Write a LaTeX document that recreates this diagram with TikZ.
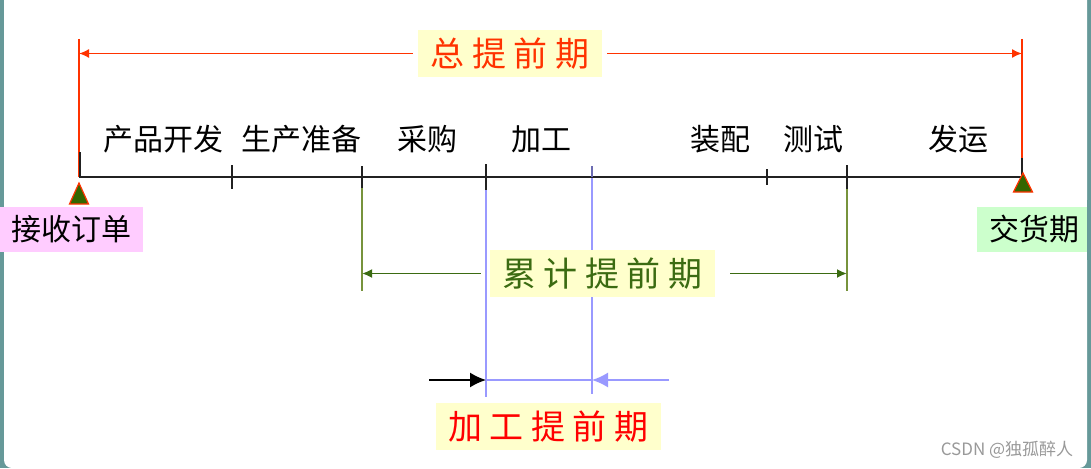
\documentclass[tikz,border=0pt]{standalone}
\usepackage{fontspec}
\usepackage{xcolor}
\usepackage{tikz}
\usetikzlibrary{arrows.meta}
\setmainfont{Noto Sans CJK SC}

\definecolor{leadred}{HTML}{FF3300}
\definecolor{cumgreen}{HTML}{3B6B12}
\definecolor{cumline}{HTML}{77933C}
\definecolor{procblue}{HTML}{9999FF}
\definecolor{noteyellow}{HTML}{FFFFCC}
\definecolor{orderpink}{HTML}{FFCCFF}
\definecolor{duegreen}{HTML}{CCFFCC}
\definecolor{frameteal}{HTML}{669999}
\definecolor{markgreen}{HTML}{336600}

\newcommand{\cjkgap}{\hspace{7.5pt}}

\tikzset{
  stage/.style={font=\fontsize{30}{30}\selectfont, inner sep=0pt},
  leadbox/.style={fill=noteyellow, font=\fontsize{34}{34}\selectfont, minimum width=225pt, minimum height=47pt, inner sep=0pt},
  datebox/.style={font=\fontsize{30}{30}\selectfont, minimum height=45pt, inner sep=0pt},
  milestone/.style={fill=markgreen, draw=leadred, line width=1.2pt},
  timeline/.style={line width=2pt, black!87},
  tick/.style={line width=1.6pt, black!87}
}

\begin{document}
\begin{tikzpicture}[x=1pt, y=-1pt]

    % frame
    \useasboundingbox (0,0) rectangle (1091,468);
    \fill[frameteal] (0,0) rectangle (1091,468);
    \fill[white, rounded corners=8pt] (4,-20) rectangle (1087,468);

    % time points
    \coordinate (order) at (79,177);
    \coordinate (purchase) at (362,177);
    \coordinate (procstart) at (486,177);
    \coordinate (procend) at (592,177);
    \coordinate (test) at (847,177);
    \coordinate (due) at (1022,177);

    % total lead time
    \draw[leadred, line width=1.6pt] (79,39) -- (order);
    \draw[leadred, line width=1.6pt] (1022,39) -- (1022,158);

    % cumulative lead time
    \draw[cumline, line width=1.8pt] (purchase) -- (362,291);
    \draw[cumline, line width=1.8pt] (test) -- (847,291);

    % processing lead time
    \draw[procblue, line width=1.3pt] (procstart) -- (486,397);
    \draw[procblue, line width=1.3pt] (592,166) -- (592,394);
    \coordinate (procleft) at (486,380);
    \coordinate (procright) at (592,380);
    \draw[procblue, line width=1.3pt] (procleft) -- (procright);
    \draw[line width=1.6pt, -{Latex[length=16pt, width=15pt]}] (429,380) -- (procleft);
    \draw[procblue, line width=1.6pt, -{Latex[length=16pt, width=15pt]}] (669,380) -- (procright);

    % time axis
    \draw[timeline] (order) -- (due);
    \draw[tick] (80,152) -- (80,177);
    \draw[tick] (1022,158) -- (due);
    \foreach \x/\h in {232/12, 362/11, 486/13, 767/8, 847/12}
    \draw[tick] (\x,{177-\h}) -- (\x,{177+\h});
    \draw[procblue!70!black, line width=1.6pt] (592,166) -- (procend);

    \node[stage] (dev) at (163,139) {产品开发};
    \node[stage] (prep) at (301,139) {生产准备};
    \node[stage] (buy) at (427,139) {采购};
    \node[stage] (make) at (541,139) {加工};
    \node[stage] (assemble) at (720,139) {装配};
    \node[stage] (check) at (813,139) {测试};
    \node[stage] (ship) at (958,139) {发运};

    % milestones
    \filldraw[milestone] (79,183) -- (88.5,204) -- (69.5,204) -- cycle;
    \filldraw[milestone] (1023,173) -- (1032.5,192) -- (1013.5,192) -- cycle;
    \node[datebox, fill=orderpink, minimum width=143pt] (orderdate) at (71.5,229.5) {接收订单};
    \node[datebox, fill=duegreen, minimum width=114pt] (duedate) at (1034,229.5) {交货期};
    \fill[frameteal] (1087,200) rectangle (1091,260);

    % lead time labels
    \node[leadbox, text=leadred, minimum width=184pt] (total) at (510,53.5) {总\cjkgap 提\cjkgap 前\cjkgap 期};
    \draw[leadred, line width=1.6pt, -{Latex[length=10pt, width=9pt]}, shorten <=5pt] (total.west) -- (total.west -| order);
    \draw[leadred, line width=1.6pt, -{Latex[length=10pt, width=9pt]}, shorten <=5pt] (total.east) -- (total.east -| due);

    \node[leadbox, text=cumgreen] (cum) at (602.5,273.5) {累\cjkgap 计\cjkgap 提\cjkgap 前\cjkgap 期};
    \draw[cumgreen, line width=1.8pt, -{Latex[length=10pt, width=9pt]}, shorten <=9pt] (cum.west) -- (cum.west -| purchase);
    \draw[cumgreen, line width=1.8pt, -{Latex[length=10pt, width=9pt]}, shorten <=15pt] (cum.east) -- (cum.east -| test);

    \node[leadbox, text=red] (proc) at (548.5,426.5) {加\cjkgap 工\cjkgap 提\cjkgap 前\cjkgap 期};

    \node[text=black!40, font=\fontsize{17}{17}\selectfont, inner sep=0pt] (mark) at (1007,450) {CSDN @独孤醉人};
\end{tikzpicture}
\end{document}
